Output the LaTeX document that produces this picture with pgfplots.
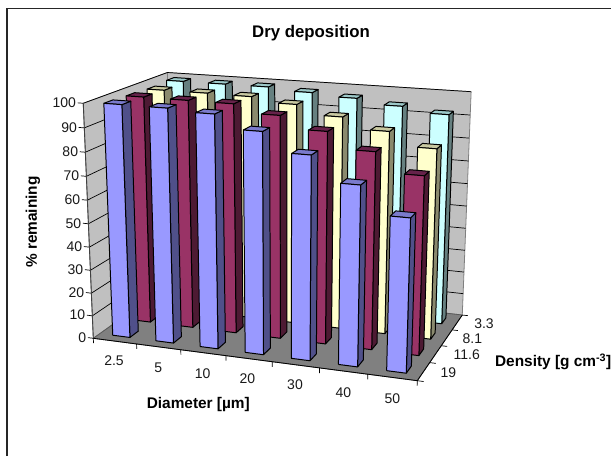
\documentclass[border=0pt]{standalone}
\usepackage{pgfplots}
\usepackage{pgfplotstable}
\usepackage{fontspec}
\setmainfont{Liberation Sans}
\pgfplotsset{compat=1.18}

% % remaining: one row per diameter, one column per density
\pgfplotstableread{
diam d19  d116 d81  d33
2.5  99.3 98.9 98.4 99.0
5    99.2 98.8 98.4 99.0
10   98.2 98.7 98.2 99.0
20   92.7 95.3 96.2 97.8
30   84.9 90.2 92.3 96.6
40   74.7 83.5 87.7 94.5
50   63.5 75.4 82.0 92.3
}\deposition

\definecolor{front0}{HTML}{9999FF}
\definecolor{side0}{HTML}{50508A}
\definecolor{top0}{HTML}{7A7ACC}
\definecolor{front1}{HTML}{993366}
\definecolor{side1}{HTML}{4D1A33}
\definecolor{top1}{HTML}{66224A}
\definecolor{front2}{HTML}{FFFFCC}
\definecolor{side2}{HTML}{8A8A6E}
\definecolor{top2}{HTML}{C8C8A0}
\definecolor{front3}{HTML}{CCFFFF}
\definecolor{side3}{HTML}{668080}
\definecolor{top3}{HTML}{9CC8C8}
\definecolor{wallgray}{HTML}{C0C0C0}
\definecolor{floorgray}{HTML}{808080}

\tikzset{
  ticklab/.style={font=\fontsize{14bp}{16bp}\selectfont, inner sep=0pt, text=black!90},
  boldlab/.style={font=\fontsize{15.4bp}{17bp}\selectfont\bfseries, inner sep=0pt},
}

% Excel's perspective, u along diameter, w along density, h up (all 0..1)
\newcommand{\projpt}[3]{%
  \pgfmathsetmacro{\pw}{1-0.075*(#1)+0.13*(#2)-0.05*(#3)}%
  \pgfmathsetmacro{\px}{(93.3+292.7*(#1)+101.7*(#2)-14.2*(#3))/\pw}%
  \pgfmathsetmacro{\py}{(338.3+13.85*(#1)-19.8*(#2)-240.2*(#3))/\pw}}
\gdef\ptlist{}
\newcommand{\addpt}[3]{\projpt{#1}{#2}{#3}\xdef\ptlist{\ptlist (\px,\py)}}
\newcommand{\flushpts}[1]{%
  \edef\tmp{\noexpand\addplot[forget plot,no markers,sharp plot,line join=round,#1] coordinates {\ptlist};}\tmp
  \gdef\ptlist{}}
\newcommand{\segment}[7]{\addpt{#2}{#3}{#4}\addpt{#5}{#6}{#7}\flushpts{#1}}

\begin{document}
\begin{tikzpicture}
\begin{axis}[
  scale only axis, width=612bp, height=457bp,
  xmin=0, xmax=612, ymin=0, ymax=457, y dir=reverse,
  hide axis, clip=false,
]
% keep the page at the full picture size
\addplot[forget plot,draw=none,no markers] coordinates {(0,0) (612,457)};
% frame
\addplot[forget plot,no markers,black!85,line width=1.6pt] coordinates {(7,456) (7,8.5) (611,8.5)};

% walls and floor
\addpt{0}{0}{0}\addpt{0}{1}{0}\addpt{0}{1}{1}\addpt{0}{0}{1}\addpt{0}{0}{0}
\flushpts{fill=wallgray,draw=floorgray,line width=0.8pt}
\addpt{0}{1}{0}\addpt{1}{1}{0}\addpt{1}{1}{1}\addpt{0}{1}{1}\addpt{0}{1}{0}
\flushpts{fill=wallgray,draw=floorgray,line width=0.8pt}
\addpt{0}{0}{0}\addpt{1}{0}{0}\addpt{1}{1}{0}\addpt{0}{1}{0}\addpt{0}{0}{0}
\flushpts{fill=floorgray,draw=floorgray!70!black,line width=0.8pt}

% gridlines on the walls, ticks on the left edge
\pgfplotsforeachungrouped \k in {1,...,10}{%
  \pgfmathsetmacro{\hh}{\k/10}%
  \addpt{0}{0}{\hh}\addpt{0}{1}{\hh}\addpt{1}{1}{\hh}%
  \flushpts{black,line width=0.7pt}%
}
\pgfplotsforeachungrouped \k in {0,...,10}{%
  \pgfmathsetmacro{\hh}{\k/10}%
  \segment{black,line width=0.7pt}{-0.018}{0}{\hh}{0}{0}{\hh}%
}
\segment{floorgray!50!black,line width=0.9pt}{0}{0}{0}{0}{0}{1}
\segment{black,line width=0.8pt}{0}{0}{0}{1}{0}{0}
\segment{black,line width=0.8pt}{1}{0}{0}{1}{1}{0}
\pgfplotsforeachungrouped \k in {0,...,7}{%
  \pgfmathsetmacro{\uu}{\k/7}%
  \segment{black,line width=0.7pt}{\uu}{0}{0}{\uu}{0}{-0.022}%
}
\pgfplotsforeachungrouped \k in {0,...,4}{%
  \pgfmathsetmacro{\ww}{\k/4}%
  \segment{black,line width=0.7pt}{1}{\ww}{0}{1.018}{\ww}{0}%
}

% bars, back row first
\pgfplotsforeachungrouped \j in {3,2,1,0}{%
  \pgfmathtruncatemacro{\col}{\j+1}%
  \pgfmathsetmacro{\wa}{(\j+0.3)/4}%
  \pgfmathsetmacro{\wb}{(\j+0.7)/4}%
  \pgfplotsforeachungrouped \i in {0,...,6}{%
    \pgfplotstablegetelem{\i}{[index]\col}\of\deposition
    \pgfmathsetmacro{\hv}{\pgfplotsretval/100}%
    \pgfmathsetmacro{\ua}{(\i+0.3)/7}%
    \pgfmathsetmacro{\ub}{(\i+0.7)/7}%
    \addpt{\ub}{\wa}{0}\addpt{\ub}{\wb}{0}\addpt{\ub}{\wb}{\hv}\addpt{\ub}{\wa}{\hv}\addpt{\ub}{\wa}{0}%
    \flushpts{fill=side\j,draw=black,line width=1pt}%
    \addpt{\ua}{\wa}{\hv}\addpt{\ub}{\wa}{\hv}\addpt{\ub}{\wb}{\hv}\addpt{\ua}{\wb}{\hv}\addpt{\ua}{\wa}{\hv}%
    \flushpts{fill=top\j,draw=black,line width=1pt}%
    \addpt{\ua}{\wa}{0}\addpt{\ub}{\wa}{0}\addpt{\ub}{\wa}{\hv}\addpt{\ua}{\wa}{\hv}\addpt{\ua}{\wa}{0}%
    \flushpts{fill=front\j,draw=black,line width=1pt}%
  }%
}

% value axis labels
\pgfplotsforeachungrouped \k in {0,10,...,100}{%
  \pgfmathsetmacro{\hh}{\k/100}%
  \projpt{-0.018}{0}{\hh}%
  \pgfmathsetmacro{\lx}{\px-1.5}%
  \edef\tmp{\noexpand\node[ticklab,anchor=east] at (axis cs:\lx,\py) {\k};}\tmp
}
% category labels
\node[ticklab] at (axis cs:114,360.7) {2.5};
\node[ticklab] at (axis cs:158.3,367.3) {5};
\node[ticklab] at (axis cs:202.7,373.3) {10};
\node[ticklab] at (axis cs:247.3,379) {20};
\node[ticklab] at (axis cs:295,385) {30};
\node[ticklab] at (axis cs:343.3,392.3) {40};
\node[ticklab] at (axis cs:392.3,398.3) {50};
\node[ticklab] at (axis cs:484,323.3) {3.3};
\node[ticklab] at (axis cs:472.3,338.3) {8.1};
\node[ticklab] at (axis cs:466.7,354.3) {11.6};
\node[ticklab] at (axis cs:448.3,372.7) {19};
% titles
\node[boldlab,font=\fontsize{16.8bp}{18bp}\selectfont\bfseries] at (axis cs:311,33) {Dry deposition};
\node[boldlab,rotate=90] at (axis cs:33,222) {\% remaining};
\node[boldlab] at (axis cs:198.3,405) {Diameter [µm]};
\node[boldlab,anchor=east] at (axis cs:611.5,362) {Density [g cm\textsuperscript{-3}]};
\end{axis}
\end{tikzpicture}
\end{document}
